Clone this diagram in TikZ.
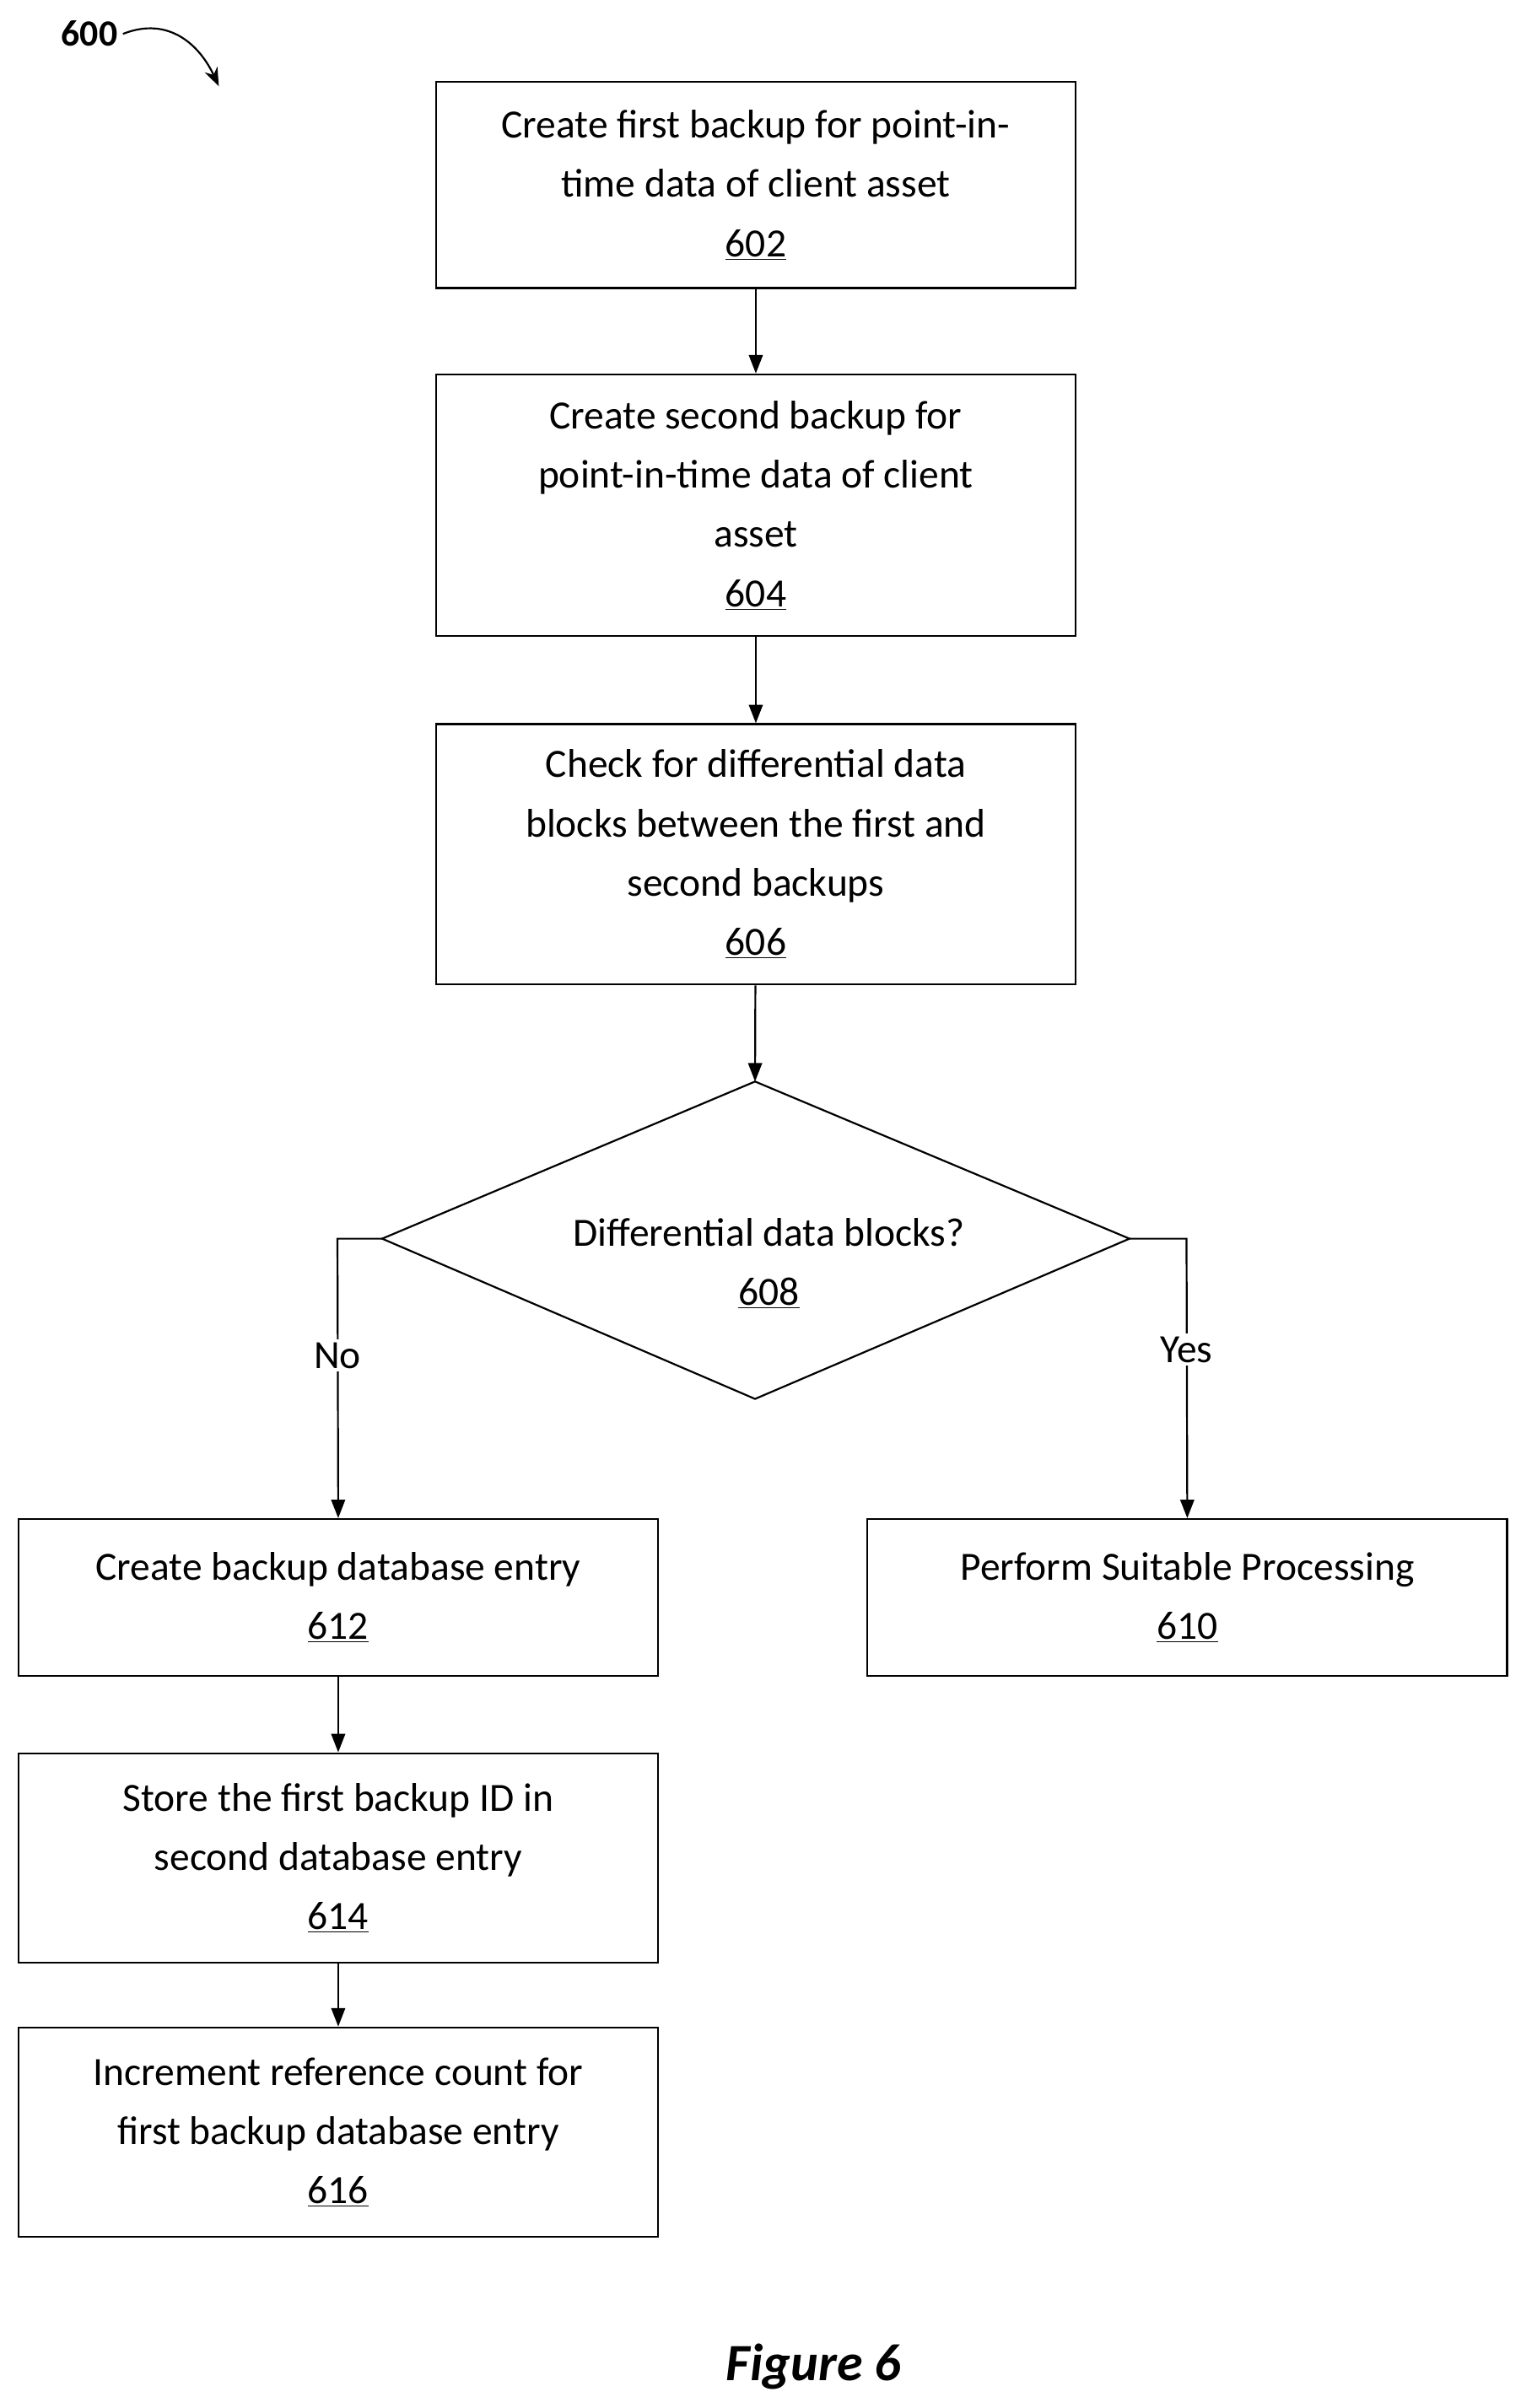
\documentclass[tikz,border=0pt]{standalone}
\usepackage{fontspec}
\setmainfont{Carlito}
\usetikzlibrary{arrows.meta,shapes.geometric}
\begin{document}
\begin{tikzpicture}[x=1pt,y=-1pt,
  box/.style={draw,line width=1.2pt,minimum width=415pt,inner sep=0pt,align=center,font=\fontsize{26}{38.5}\selectfont},
  lbl/.style={font=\fontsize{26}{38.5}\selectfont,fill=white,inner sep=2pt},
  arr/.style={line width=1.2pt,-{Triangle[length=12pt,width=9pt]}}]
\useasboundingbox (0,0) rectangle (987,1563);
\node[box,minimum height=134pt] (b602) at (490.5,120) {Create first backup for point-in-\\time data of client asset\\\underline{602}};
\node[box,minimum height=170pt] (b604) at (490.5,328) {Create second backup for\\point-in-time data of client\\asset\\\underline{604}};
\node[box,minimum height=169pt] (b606) at (490.5,554.5) {Check for differential data\\blocks between the first and\\second backups\\\underline{606}};
\coordinate (dt) at (490,702);
\coordinate (db) at (490,908);
\coordinate (dl) at (248,804);
\coordinate (dr) at (733,804);
\draw[line width=1.2pt] (dt) -- (dr) -- (db) -- (dl) -- cycle;
\node[align=center,font=\fontsize{26}{38.5}\selectfont] (d608) at (499,820) {Differential data blocks?\\\underline{608}};
\node[box,minimum height=102pt] (b612) at (219.5,1037) {Create backup database entry\\\underline{612}};
\node[box,minimum height=102pt] (b610) at (770.5,1037) {Perform Suitable Processing\\\underline{610}};
\node[box,minimum height=136pt] (b614) at (219.5,1206) {Store the first backup ID in\\second database entry\\\underline{614}};
\node[box,minimum height=136pt] (b616) at (219.5,1384) {Increment reference count for\\first backup database entry\\\underline{616}};
\draw[arr] (b602) -- (b604);
\draw[arr] (b604) -- (b606);
\draw[arr] (b606) -- (dt);
\coordinate (lc) at (219,804);
\coordinate (rc) at (770,804);
\draw[arr] (dl) -- (lc) -- (b612.north);
\draw[arr] (dr) -- (rc) -- (b610.north);
\node[lbl] (no) at (219,880) {No};
\node[lbl] (yes) at (770,876) {Yes};
\draw[arr] (b612) -- (b614);
\draw[arr] (b614) -- (b616);
\node[font=\fontsize{34}{40}\selectfont\bfseries\itshape] (fig) at (528,1536) {Figure 6};
\node[font=\fontsize{24}{28}\selectfont\bfseries] (n600) at (58,22) {600};
\coordinate (ae) at (142,56);
\draw[line width=1.2pt,-{Stealth[length=12pt,width=9pt]}] (n600.east) .. controls (110,10) and (130,30) .. (ae);
\end{tikzpicture}
\end{document}
